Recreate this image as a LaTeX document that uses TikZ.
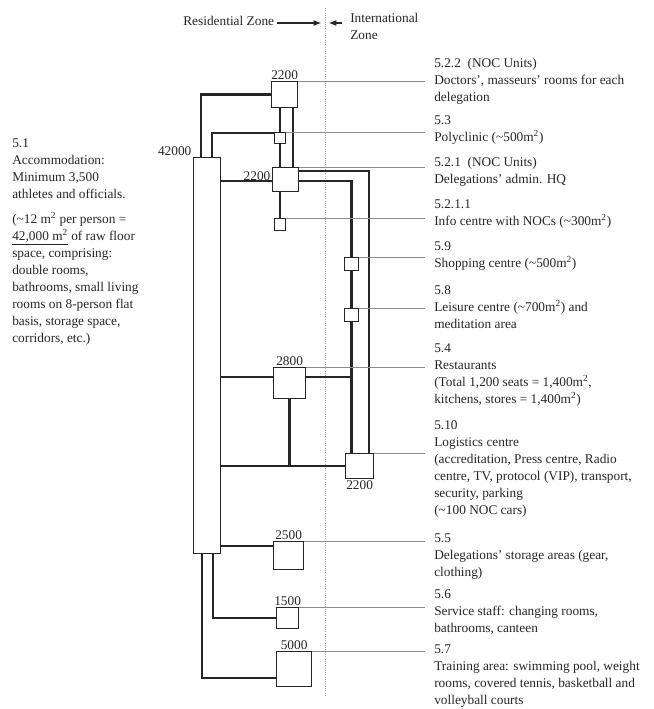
\documentclass[tikz,border=0pt]{standalone}
\usepackage{fontspec}
\setmainfont{Liberation Serif}
\usetikzlibrary{arrows.meta,positioning,calc}
\definecolor{Ink}{HTML}{262626}
\definecolor{Leader}{HTML}{8C8C8C}
\definecolor{ZoneLine}{HTML}{ABABAB}

\begin{document}
\begin{tikzpicture}[x=0.75pt,y=-0.75pt,>={Latex[length=6pt,width=4.5pt]},
  every node/.style={font=\fontsize{10}{12.75}\selectfont,text=Ink},
  room/.style 2 args={draw=Ink,line width=0.9pt,fill=white,inner sep=0pt,anchor=north west,
    minimum width=#1*0.75pt,minimum height=#2*0.75pt},
  link/.style={draw=Ink,line width=1.7pt},
  leader/.style={draw=Leader,line width=0.6pt},
  area/.style={inner sep=1pt},
  note/.style={anchor=north west,align=left,inner ysep=0pt,inner xsep=6.75pt}]
\useasboundingbox (0,0) rectangle (653,709);
% zone border
\draw[ZoneLine,line width=0.7pt,densely dotted] (325,8) -- (325,697);
\coordinate (zl) at (325,23);
\node[anchor=east,inner sep=2pt] (res) at (277,21) {Residential Zone};
\node[anchor=north west,align=left,inner sep=0pt] (intl) at (350,13) {International\\Zone};
\draw[->,Ink,line width=1.4pt] (res.east |- zl) -- ([xshift=-2.5pt]zl);
\draw[->,Ink,line width=1.4pt] ([xshift=-6pt]intl.west |- zl) -- ([xshift=2.5pt]zl);
% rooms
\node[room={27}{396}] (acc) at (193,157) {};
\node[room={26}{26}] (noc2) at (271,81) {};
\node[room={11}{11}] (poly) at (274,132) {};
\node[room={26}{24}] (noc1) at (272,167) {};
\node[room={11}{12}] (info) at (274,218) {};
\node[room={14}{13}] (shop) at (344,257) {};
\node[room={14}{13}] (leis) at (344,308) {};
\node[room={32}{31}] (rest) at (273,367) {};
\node[room={28}{25}] (logi) at (345,453) {};
\node[room={30}{28}] (store) at (273,541) {};
\node[room={22}{21}] (staff) at (276,607) {};
\node[room={35}{35}] (train) at (276,651) {};
% areas
\node[area,anchor=south east] at (acc.north west) {42000};
\node[area,above] at (noc2.north) {2200};
\node[area,anchor=north east] at ([yshift=-2pt]noc1.north west) {2200};
\node[area,above] at (rest.north) {2800};
\node[area,below] at (logi.south) {2200};
\node[area,above] at (store.north) {2500};
\node[area,above] at (staff.north) {1500};
\node[area,above] at (train.north) {5000};
% links
\draw[link] ([xshift=6pt]acc.north west) |- (noc2.west);
\draw[link] ([xshift=14.25pt]acc.north west) |- ([yshift=-0.75pt]poly.north west);
\draw[link] (noc2.south -| poly.north) -- (poly.north);
\draw[link] (poly.south) -- (poly.south |- noc1.north);
\draw[link] (noc1.south -| info.north) -- (info.north);
\draw[link] ([xshift=-3.75pt]noc2.south east) -- ([xshift=-3.75pt]noc2.south east |- noc1.north);
\draw[link] ([yshift=-10.5pt]noc1.north west) -- ([yshift=-10.5pt]noc1.north west -| acc.east);
\draw[link] ([yshift=-3pt]noc1.north east) -| ([xshift=-3.75pt]logi.north east);
\draw[link] ([yshift=-10.5pt]noc1.north east) -| (shop.north);
\draw[link] (shop.south) -- (leis.north);
\draw[link] (leis.south) -- (leis.south |- logi.north);
\draw[link] ([yshift=-7.5pt]rest.north west) -- ([yshift=-7.5pt]rest.north west -| acc.east);
\draw[link] ([yshift=-7.5pt]rest.north east) -- ([yshift=-7.5pt]rest.north east -| shop.south);
\draw[link] (rest.south) -- (rest.south |- logi.west);
\draw[link] (logi.west) -- (logi.west -| acc.east);
\draw[link] ([yshift=-3.75pt]store.north west) -- ([yshift=-3.75pt]store.north west -| acc.east);
\draw[link] ([xshift=15pt]acc.south west) |- (staff.west);
\draw[link] ([xshift=6.75pt]acc.south west) |- ([yshift=-20.25pt]train.north west);
% notes
\node[note] (n522) at (425,58) {5.2.2\ \ (NOC Units)\\Doctors', masseurs' rooms for each\\delegation};
\node[note] (n53) at (425,115) {5.3\\Polyclinic (\textasciitilde500m\textsuperscript{2})};
\node[note] (n521) at (425,157) {5.2.1\ \ (NOC Units)\\Delegations' admin. HQ};
\node[note] (n5211) at (425,199) {5.2.1.1\\Info centre with NOCs (\textasciitilde300m\textsuperscript{2})};
\node[note] (n59) at (425,241) {5.9\\Shopping centre (\textasciitilde500m\textsuperscript{2})};
\node[note] (n58) at (425,285) {5.8\\Leisure centre (\textasciitilde700m\textsuperscript{2}) and\\meditation area};
\node[note] (n54) at (425,343) {5.4\\Restaurants\\(Total 1,200 seats = 1,400m\textsuperscript{2},\\kitchens, stores = 1,400m\textsuperscript{2})};
\node[note] (n510) at (425,420) {5.10\\Logistics centre\\(accreditation, Press centre, Radio\\centre, TV, protocol (VIP), transport,\\security, parking\\(\textasciitilde100 NOC cars)};
\node[note] (n55) at (425,533) {5.5\\Delegations' storage areas (gear,\\clothing)};
\node[note] (n56) at (425,589) {5.6\\Service staff: changing rooms,\\bathrooms, canteen};
\node[note] (n57) at (425,644) {5.7\\Training area: swimming pool, weight\\rooms, covered tennis, basketball and\\volleyball courts};
\node[anchor=north west,align=left,inner sep=0pt] (n51) at (12,138) {5.1\\Accommodation:\\Minimum 3,500\\athletes and officials.\\[6pt](\textasciitilde12 m\textsuperscript{2} per person =\\\underline{42,000 m\textsuperscript{2}} of raw floor\\space, comprising:\\double rooms,\\bathrooms, small living\\rooms on 8-person flat\\basis, storage space,\\corridors, etc.)};
% leaders
\foreach \r/\n in {noc2/n522,poly/n53,noc1/n521,info/n5211,shop/n59,leis/n58,rest/n54,logi/n510,store/n55,staff/n56,train/n57}
  \draw[leader] (\r.north east) -- (\r.north east -| \n.west);
\end{tikzpicture}
\end{document}
